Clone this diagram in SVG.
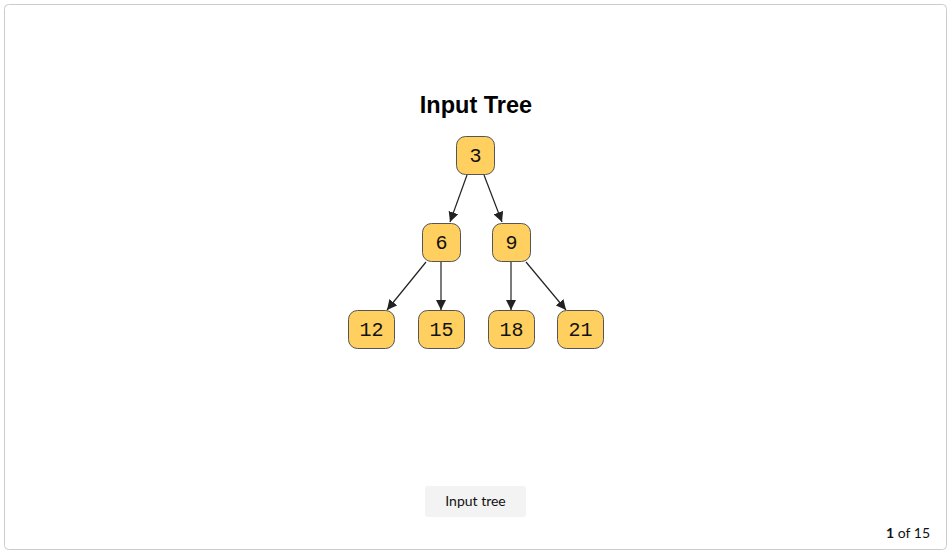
<svg xmlns="http://www.w3.org/2000/svg" width="952" height="555" viewBox="0 0 952 555">
<style>
.node rect{fill:#FFCF5F;stroke:#555;stroke-width:1}
.node text{font-family:"Liberation Mono",monospace;font-size:20px;fill:#111;text-anchor:middle;dominant-baseline:central}
.edges line{stroke:#222;stroke-width:1.2;marker-end:url(#arr)}
</style>
<defs>
<marker id="arr" viewBox="0 0 10 10" refX="10" refY="5" markerWidth="10" markerHeight="10" markerUnits="userSpaceOnUse" orient="auto">
<path d="M0,0 L10,5 L0,10 z" fill="#222"/>
</marker>
</defs>
<rect x="4.5" y="4.5" width="942" height="545" rx="4" fill="#fff" stroke="#ccc"/>
<text x="476" y="113" font-family="Liberation Sans,Arial,sans-serif" font-size="23.5" font-weight="bold" text-anchor="middle" fill="#000">Input Tree</text>
<g class="edges">
<line x1="467" y1="175" x2="450" y2="222"/>
<line x1="484" y1="175" x2="502" y2="222"/>
<line x1="426" y1="262" x2="387" y2="310"/>
<line x1="441" y1="262" x2="441" y2="310"/>
<line x1="511" y1="262" x2="511" y2="310"/>
<line x1="526" y1="262" x2="566" y2="310"/>
</g>
<g id="n3" class="node"><rect x="456.5" y="136.5" width="38" height="38" rx="9"/><text x="475.5" y="156">3</text></g>
<g id="n6" class="node"><rect x="422.5" y="223.5" width="38" height="38" rx="9"/><text x="441.5" y="243">6</text></g>
<g id="n9" class="node"><rect x="492.5" y="223.5" width="38" height="38" rx="9"/><text x="511.5" y="243">9</text></g>
<g id="n12" class="node"><rect x="348.5" y="310.5" width="46" height="38" rx="9"/><text x="371.5" y="330">12</text></g>
<g id="n15" class="node"><rect x="418.5" y="310.5" width="46" height="38" rx="9"/><text x="441.5" y="330">15</text></g>
<g id="n18" class="node"><rect x="488.5" y="310.5" width="46" height="38" rx="9"/><text x="511.5" y="330">18</text></g>
<g id="n21" class="node"><rect x="557.5" y="310.5" width="46" height="38" rx="9"/><text x="580.5" y="330">21</text></g>
<rect x="425" y="486" width="101" height="31" rx="3" fill="#f3f3f3"/>
<text x="475.5" y="506" font-family="Lato,sans-serif" font-size="14" text-anchor="middle" fill="#111">Input tree</text>
<text x="930" y="538" font-family="Lato,sans-serif" font-size="14" text-anchor="end" fill="#111"><tspan font-weight="bold">1</tspan> of 15</text>
</svg>
